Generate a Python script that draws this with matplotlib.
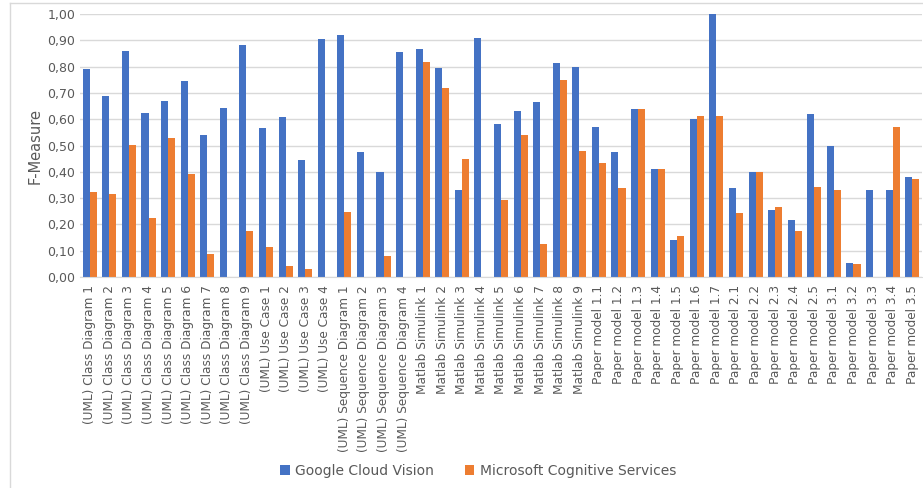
import matplotlib
matplotlib.use("Agg")
import matplotlib.pyplot as plt
import numpy as np
from matplotlib.lines import Line2D
from matplotlib.ticker import FuncFormatter

categories = (
    [f"(UML) Class Diagram {i}" for i in range(1, 10)]
    + [f"(UML) Use Case {i}" for i in range(1, 5)]
    + [f"(UML) Sequence Diagram {i}" for i in range(1, 5)]
    + [f"Matlab Simulink {i}" for i in range(1, 10)]
    + [f"Paper model 1.{i}" for i in range(1, 8)]
    + [f"Paper model 2.{i}" for i in range(1, 6)]
    + [f"Paper model 3.{i}" for i in range(1, 6)]
)

google = [
    0.792, 0.689, 0.859, 0.623, 0.671, 0.745, 0.541, 0.642, 0.881,
    0.565, 0.610, 0.444, 0.905,
    0.921, 0.475, 0.400, 0.857,
    0.868, 0.794, 0.331, 0.909, 0.581, 0.632, 0.666, 0.812, 0.799,
    0.571, 0.476, 0.637, 0.411, 0.142, 0.599, 1.000,
    0.338, 0.400, 0.256, 0.216, 0.621,
    0.500, 0.052, 0.332, 0.332, 0.381,
]
microsoft = [
    0.322, 0.317, 0.503, 0.226, 0.530, 0.392, 0.089, 0.0, 0.176,
    0.114, 0.041, 0.030, 0.0,
    0.249, 0.0, 0.080, 0.0,
    0.817, 0.720, 0.450, 0.0, 0.294, 0.539, 0.127, 0.749, 0.478,
    0.433, 0.339, 0.637, 0.411, 0.154, 0.614, 0.614,
    0.245, 0.400, 0.265, 0.176, 0.344,
    0.332, 0.051, 0.0, 0.571, 0.373,
]

W, H = 923, 488
fig = plt.figure(figsize=(W / 100, H / 100), dpi=100)
ax = fig.add_axes([80 / W, 1 - 277 / H, (922 - 80) / W, (277 - 14) / H])

x = np.arange(len(categories))
bw = 0.36
blue = "#4472C4"
orange = "#ED7D31"
ax.bar(x - bw / 2, google, width=bw, color=blue, label="Google Cloud Vision", zorder=2)
ax.bar(x + bw / 2, microsoft, width=bw, color=orange, label="Microsoft Cognitive Services", zorder=2)

ax.set_xlim(-0.5, len(categories) - 0.5)
ax.set_ylim(0, 1.0)
ax.set_yticks(np.arange(0, 1.01, 0.1))
ax.yaxis.set_major_formatter(FuncFormatter(lambda v, p: f"{v:.2f}".replace(".", ",")))
ax.grid(axis="y", color="#d9d9d9", linewidth=1.0, zorder=0)
ax.set_axisbelow(True)
for s in ["top", "right", "left"]:
    ax.spines[s].set_visible(False)
ax.spines["bottom"].set_color("#d9d9d9")
ax.tick_params(axis="both", length=0, colors="#595959", labelsize=9)
ax.set_xticks(x)
ax.set_xticklabels(categories, rotation=90, fontsize=8.7, color="#595959")
ax.tick_params(axis="x", pad=6)
ax.set_ylabel("F-Measure", fontsize=10.5, color="#595959", labelpad=3)

fig.legend(
    loc="center", bbox_to_anchor=(478 / W, 1 - 471 / H), ncol=2, frameon=False,
    fontsize=10, handlelength=0.7, handleheight=0.7, handletextpad=0.4,
    columnspacing=2.2, labelcolor="#595959",
)

# chart area border
fig.add_artist(Line2D([10 / W, 1], [1 - 3 / H] * 2, color="#d9d9d9", linewidth=1))
fig.add_artist(Line2D([10 / W] * 2, [0, 1 - 3 / H], color="#d9d9d9", linewidth=1))

fig.savefig("out.png", dpi=100)
